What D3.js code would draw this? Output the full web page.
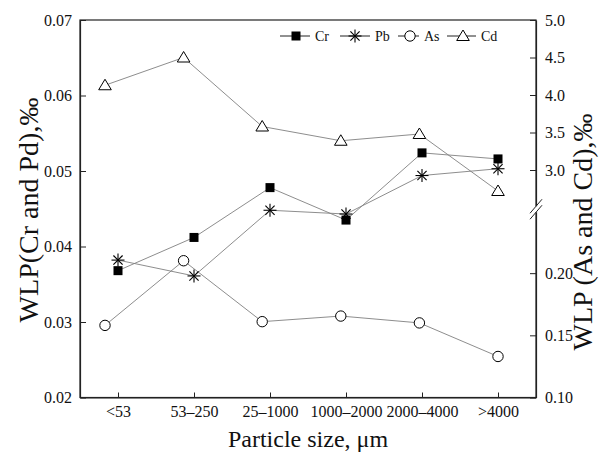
<!DOCTYPE html>
<html>
<head>
<meta charset="utf-8">
<script src="https://cdn.jsdelivr.net/npm/d3@7"></script>
<style>
  html, body { margin: 0; padding: 0; background: #fff; }
  svg, svg text { font-family: "Liberation Serif", "Times New Roman", serif !important; }
</style>
</head>
<body>
<svg id="chart" width="600" height="454"></svg>
<script>
// ---- data ----
const categories = ["<53", "53\u2013250", "25\u20131000", "1000\u20132000", "2000\u20134000", ">4000"];
const crValues = [0.0368, 0.0412, 0.0478, 0.0435, 0.0524, 0.0516];
const pbValues = [0.0382, 0.0361, 0.0448, 0.0443, 0.0494, 0.0503];
const asValues = [0.158, 0.210, 0.161, 0.1655, 0.160, 0.133];
const cdValues = [4.13, 4.50, 3.58, 3.39, 3.48, 2.72];
const leftTicks = [0.02, 0.03, 0.04, 0.05, 0.06, 0.07];
const rightTicksLow = [0.10, 0.15, 0.20];
const rightTicksHigh = [3.0, 3.5, 4.0, 4.5, 5.0];
const seriesNames = ["Cr", "Pb", "As", "Cd"];

// ---- layout ----
const W = 600, H = 454;
const FONT = '"Liberation Serif", "Times New Roman", serif';
const m = { left: 80, right: 64, top: 20, bottom: 56.5 };
const x0 = m.left, x1 = W - m.right, y0 = H - m.bottom, y1 = m.top;
const svg = d3.select("#chart");

const x = d3.scalePoint().domain(categories).range([x0, x1]).padding(0.5);
const x2 = d3.scalePoint().domain(categories).range([x0 + 25, x1 - 38]);
const yL = d3.scaleLinear().domain([0.02, 0.07]).range([y0, y1]);
const breakLow = 0.25, breakHigh = 2.5;
const yR = d3.scaleLinear().domain([0.10, breakLow, breakHigh, 5.0]).range([y0, 211, 207.5, y1]);

const axisColor = "#222";

// frame
svg.append("rect").attr("x", x0).attr("y", y1).attr("width", x1 - x0).attr("height", y0 - y1)
  .attr("fill", "none").attr("stroke", axisColor).attr("stroke-width", 1.2);

// left axis
const gL = svg.append("g").attr("transform", `translate(${x0},0)`)
  .call(d3.axisLeft(yL).tickValues(leftTicks).tickFormat(d3.format(".2f")).tickSizeInner(-6).tickSizeOuter(0).tickPadding(8));
// right axis
const gR = svg.append("g").attr("transform", `translate(${x1},0)`)
  .call(d3.axisRight(yR).tickValues(rightTicksLow.concat(rightTicksHigh))
    .tickFormat(d => d < 1 ? d3.format(".2f")(d) : d3.format(".1f")(d))
    .tickSizeInner(-6).tickSizeOuter(0).tickPadding(9));
// bottom axis
const gB = svg.append("g").attr("transform", `translate(0,${y0})`)
  .call(d3.axisBottom(x).tickSizeInner(-5).tickSizeOuter(0).tickPadding(8));

[gL, gR, gB].forEach(g => {
  g.attr("font-family", FONT).attr("font-size", 16);
  g.select(".domain").attr("stroke", axisColor).attr("stroke-width", 1.2);
  g.selectAll(".tick line").attr("stroke", axisColor).attr("stroke-width", 1);
  g.selectAll(".tick text").attr("fill", "#111").attr("font-family", FONT).attr("font-size", 16);
});

// axis break marks on right axis
const by = (yR(breakLow) + yR(breakHigh)) / 2;
svg.append("rect").attr("x", x1 - 2).attr("y", by - 3).attr("width", 4).attr("height", 6).attr("fill", "#fff");
[-3, 3].forEach(o => {
  svg.append("line").attr("x1", x1 - 6).attr("y1", by + o + 7).attr("x2", x1 + 6).attr("y2", by + o - 7)
    .attr("stroke", axisColor).attr("stroke-width", 1);
});

// titles
svg.append("text").attr("x", (x0 + x1) / 2).attr("y", 447).attr("text-anchor", "middle")
  .attr("font-family", FONT).attr("font-size", 24).attr("fill", "#111").text("Particle size, \u03bcm");
svg.append("text").attr("transform", `translate(38,210) rotate(-90)`).attr("text-anchor", "middle")
  .attr("font-family", FONT).attr("font-size", 28).attr("fill", "#111").text("WLP(Cr and Pd),\u2030");
svg.append("text").attr("transform", `translate(592,232) rotate(-90)`).attr("text-anchor", "middle")
  .attr("font-family", FONT).attr("font-size", 28).attr("fill", "#111").text("WLP (As and Cd),\u2030");

// markers
function drawMarker(g, type, cx, cy) {
  if (type === "Cr") {
    g.append("rect").attr("x", cx - 4.5).attr("y", cy - 4.5).attr("width", 9).attr("height", 9).attr("fill", "#000");
  } else if (type === "Pb") {
    const r = 6.5;
    [0, 45, 90, 135].forEach(a => {
      const rad = a * Math.PI / 180;
      g.append("line").attr("x1", cx - r * Math.cos(rad)).attr("y1", cy - r * Math.sin(rad))
        .attr("x2", cx + r * Math.cos(rad)).attr("y2", cy + r * Math.sin(rad))
        .attr("stroke", "#000").attr("stroke-width", 1.1);
    });
  } else if (type === "As") {
    g.append("circle").attr("cx", cx).attr("cy", cy).attr("r", 5.2).attr("fill", "#fff").attr("stroke", "#000").attr("stroke-width", 1);
  } else {
    const s = 6;
    g.append("path").attr("d", `M${cx},${cy - s}L${cx + s * 1.05},${cy + s * 0.75}L${cx - s * 1.05},${cy + s * 0.75}Z`)
      .attr("fill", "#fff").attr("stroke", "#000").attr("stroke-width", 1);
  }
}

const series = [
  { name: "Cr", values: crValues, xs: x, ys: yL },
  { name: "Pb", values: pbValues, xs: x, ys: yL },
  { name: "As", values: asValues, xs: x2, ys: yR },
  { name: "Cd", values: cdValues, xs: x2, ys: yR }
];

const lineGen = (s) => d3.line().x((d, i) => s.xs(categories[i])).y(d => s.ys(d));
series.forEach(s => {
  svg.append("path").datum(s.values).attr("d", lineGen(s)).attr("fill", "none")
    .attr("stroke", "#808080").attr("stroke-width", 0.9);
});
series.forEach(s => {
  const g = svg.append("g");
  s.values.forEach((d, i) => drawMarker(g, s.name, s.xs(categories[i]), s.ys(d)));
});

// legend
const legendItems = [
  { name: "Cr", lx: 280, mx: 296, tx: 315 },
  { name: "Pb", lx: 340, mx: 355, tx: 375 },
  { name: "As", lx: 398, mx: 410, tx: 424 },
  { name: "Cd", lx: 447, mx: 463, tx: 481 }
];
const ly = 36;
legendItems.forEach(it => {
  const g = svg.append("g");
  g.append("line").attr("x1", it.lx).attr("x2", it.tx - 5).attr("y1", ly).attr("y2", ly)
    .attr("stroke", "#222").attr("stroke-width", 1);
  drawMarker(g, it.name, it.mx, ly);
  g.append("text").attr("x", it.tx).attr("y", ly + 5).attr("font-family", FONT).attr("font-size", 14)
    .attr("fill", "#111").text(it.name);
});
</script>
</body>
</html>
